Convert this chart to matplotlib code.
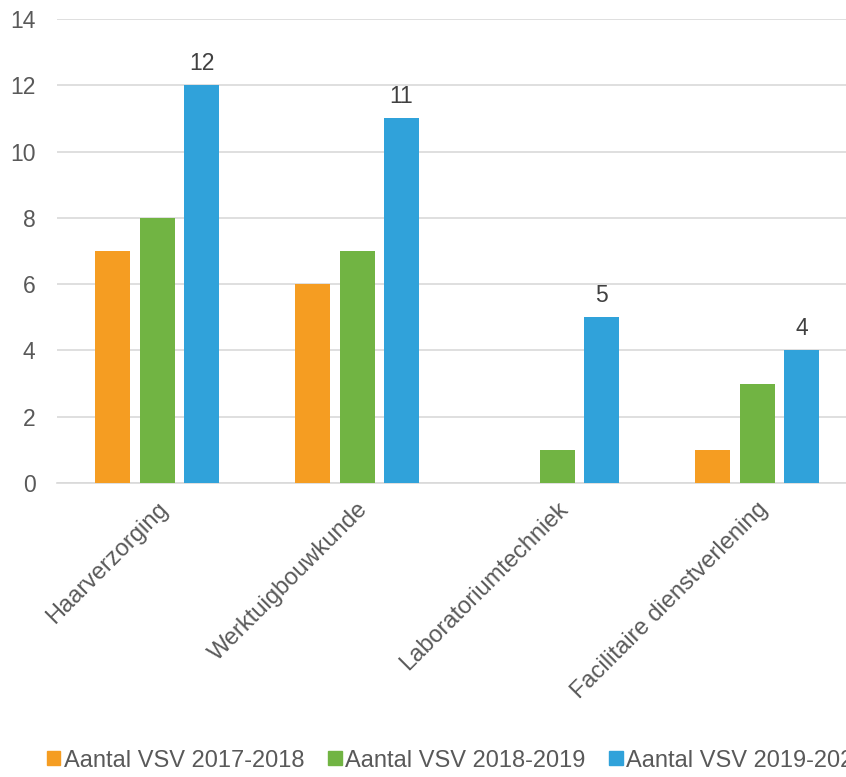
import numpy as np
import matplotlib.pyplot as plt
from matplotlib.patches import Patch

categories = ["Haarverzorging", "Werktuigbouwkunde", "Laboratoriumtechniek",
              "Facilitaire dienstverlening"]
series_names = ["Aantal VSV 2017-2018", "Aantal VSV 2018-2019", "Aantal VSV 2019-2020"]
vsv_2017 = [7, 6, 0, 1]
vsv_2018 = [8, 7, 1, 3]
vsv_2019 = [12, 11, 5, 4]
colors = ["#F59D22", "#71B443", "#30A2DA"]

plt.rcParams["font.family"] = ["Liberation Sans", "DejaVu Sans"]
FS = 16.5

fig = plt.figure(figsize=(8.46, 7.77), dpi=100)
ax = fig.add_axes([57 / 846, (777 - 483) / 777, 800 / 846, 464 / 777])

x = np.arange(len(categories))
width = 0.175
offset = 0.2225
all_series = [vsv_2017, vsv_2018, vsv_2019]
for i, (vals, col) in enumerate(zip(all_series, colors)):
    bars = ax.bar(x + (i - 1) * offset, vals, width, color=col, zorder=3)
    if i == 2:
        for b, v in zip(bars, vals):
            ax.text(b.get_x() + b.get_width() / 2, v + 0.3, str(v),
                    ha="center", va="bottom", fontsize=FS, color="#404040")

ax.set_xlim(-0.5, 3.5)
ax.set_ylim(0, 14)
ax.set_yticks(range(0, 15, 2))
ax.grid(axis="y", color="#D9D9D9", linewidth=1.2, zorder=0)
for s in ["top", "right", "left"]:
    ax.spines[s].set_visible(False)
ax.spines["bottom"].set_color("#D9D9D9")
ax.spines["bottom"].set_linewidth(1.2)
ax.tick_params(axis="both", length=0, labelsize=FS, labelcolor="#595959")
ax.tick_params(axis="y", pad=15.5)

ax.set_xticks(x)
ax.set_xticklabels(categories, rotation=45, ha="right", rotation_mode="anchor",
                   fontsize=17)
ax.tick_params(axis="x", pad=11)

handles = [Patch(color=c) for c in colors]
fig.legend(handles, series_names, loc="lower left", bbox_to_anchor=(47 / 846, 0.007),
           ncol=3, frameon=False, fontsize=17, handlelength=0.57, handleheight=0.57,
           handletextpad=0.15, columnspacing=1.0, borderpad=0, borderaxespad=0,
           labelcolor="#595959")

fig.savefig("out.png", dpi=100)
